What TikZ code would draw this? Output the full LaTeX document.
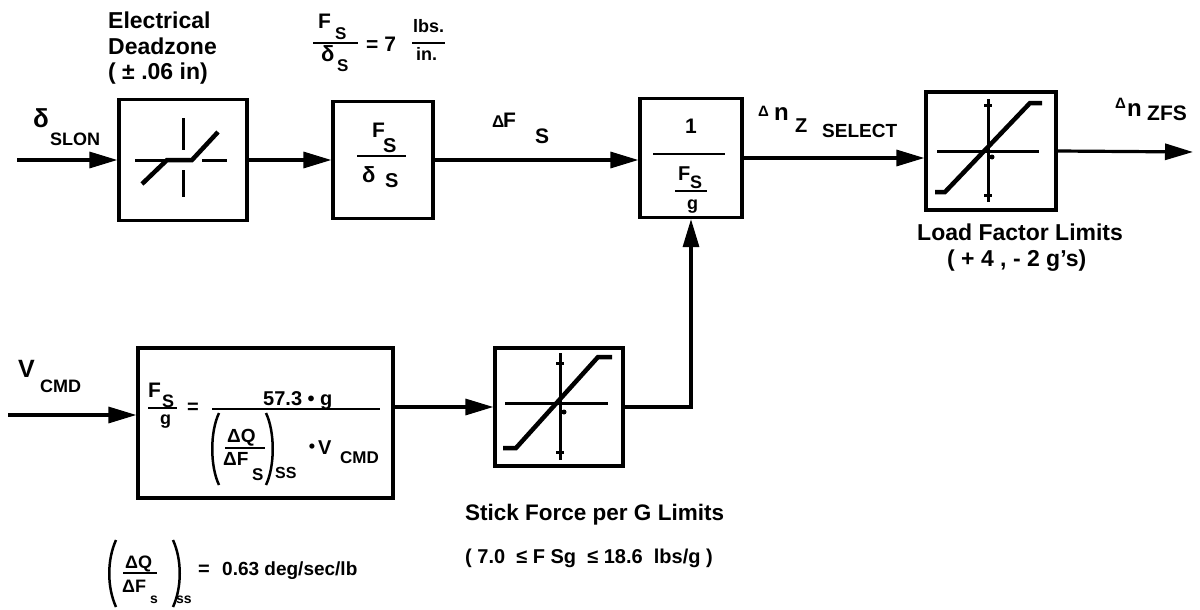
\documentclass[tikz,border=0pt]{standalone}
\usepackage{fontspec}
\setmainfont{Liberation Sans}
\usetikzlibrary{arrows.meta}
\newcommand\fsz[1]{\fontsize{#1}{#1}\selectfont\bfseries}
\begin{document}
\begin{tikzpicture}[x=1pt,y=-1pt,
  blk/.style={draw, line width=3.2pt, inner sep=0pt},
  conn/.style={line width=3.2pt, -{Triangle[length=28pt,width=16pt]}},
  glyph/.style={line width=4.5pt},
  axis/.style={line width=3pt},
  bar/.style={line width=2.6pt},
  thinbar/.style={line width=2pt},
  paren/.style={line width=2.5pt},
  tx/.style={inner sep=0pt, anchor=base west},
  ctx/.style={inner sep=0pt},
]
\useasboundingbox (0,0) rectangle (1200,610);

% blocks
\node[blk, minimum width=128pt, minimum height=121pt] (b1) at (183,160) {};
\node[blk, minimum width=100pt, minimum height=117pt] (b2) at (383,160) {};
\node[blk, minimum width=102pt, minimum height=119pt] (b3) at (691,158) {};
\node[blk, minimum width=130pt, minimum height=118pt] (b4) at (991,151) {};
\node[blk, minimum width=128pt, minimum height=118pt] (sf) at (559,407) {};
\node[blk, minimum width=255pt, minimum height=150pt] (vc) at (265.5,423) {};

% connectors
\coordinate (din) at (17,160);
\coordinate (dout) at (1193,152);
\coordinate (vin) at (8,415);
\draw[conn] (din) -- (b1.west);
\draw[conn] (b1.east) -- (b2.west);
\draw[conn] (b2.east) -- (b2.east -| b3.west);
\draw[conn] (b3.east) -- (b3.east -| b4.west);
\draw[conn] (b4.east) -- (dout);
\draw[conn] (vin) -- (vin -| vc.west);
\draw[conn] (vc.east |- sf.west) -- (sf.west);
\draw[conn] (sf.east) -| (b3.south);

% deadzone glyph
\draw[axis] (135,160) -- (167,160);
\draw[axis] (202,160) -- (227,160);
\draw[axis] (183,118) -- (183,150);
\draw[axis] (183,170) -- (183,197);
\draw[glyph] (142,184) -- (167,160) -- (192,160) -- (218,132);

% load factor limiter glyph
\draw[axis] (937,151) -- (1039,151);
\draw[axis] (988,99) -- (988,202);
\draw[axis] (984,105) -- (992,105);
\draw[axis] (984,195) -- (992,195);
\fill (992,157) circle (2.5);
\draw[glyph] (935,192) -- (945,192) -- (1030,103) -- (1042,103);

% stick force limiter glyph
\draw[axis] (505,403) -- (608,403);
\draw[axis] (560,353) -- (560,460);
\draw[axis] (556,363) -- (564,363);
\draw[axis] (556,452) -- (564,452);
\fill (564,412) circle (2.5);
\draw[glyph] (503,448) -- (516,448) -- (598,357) -- (612,357);

% top-left labels
\node[tx,font=\fsz{23}] (l1) at (108,29) {Electrical};
\node[tx,font=\fsz{23}] (l2) at (108,55) {Deadzone};
\node[tx,font=\fsz{23}] (l3) at (108,80) {( ± .06 in)};

% Fs/ds = 7 lbs/in
\node[tx,font=\fsz{21}] (f1) at (318,29) {F};
\node[tx,font=\fsz{17}] (f2) at (335,40) {S};
\draw[bar] (313,43) -- (358,43);
\node[tx,font=\fsz{22}] (f3) at (321,62) {δ};
\node[tx,font=\fsz{17}] (f4) at (337,72) {S};
\node[tx,font=\fsz{21}] (f5) at (366,52) {= 7};
\node[tx,font=\fsz{18}] (f6) at (413,33) {lbs.};
\draw[thinbar] (412,43) -- (445,43);
\node[tx,font=\fsz{18}] (f7) at (416,60) {in.};

% input delta SLON
\node[tx,font=\fsz{26}] (s1) at (33,128) {δ};
\node[tx,font=\fsz{18}] (s2) at (50,145) {SLON};

% Delta F_S
\node[tx,font=\fsz{17}] (d1) at (492,128) {Δ};
\node[tx,font=\fsz{21}] (d2) at (503,128) {F};
\node[tx,font=\fsz{21}] (d3) at (535,143) {S};

% block 2 content
\node[tx,font=\fsz{21}] (g1) at (372,137) {F};
\node[tx,font=\fsz{20}] (g2) at (383,152) {S};
\draw[bar] (357,156) -- (406,156);
\node[tx,font=\fsz{22}] (g3) at (362,182) {δ};
\node[tx,font=\fsz{20}] (g4) at (385,187) {S};

% block 3 content
\node[tx,font=\fsz{21}] (h1) at (685,133) {1};
\draw[bar] (653,154) -- (725,154);
\node[tx,font=\fsz{20}] (h2) at (678,180) {F};
\node[tx,font=\fsz{18}] (h3) at (690,188) {S};
\draw[thinbar] (675,191) -- (707,191);
\node[tx,font=\fsz{18}] (h4) at (687,209) {g};

% Delta n_Z SELECT
\node[tx,font=\fsz{15}] (n1) at (758,117) {Δ};
\node[tx,font=\fsz{24}] (n2) at (774,120) {n};
\node[tx,font=\fsz{20}] (n3) at (795,132) {Z};
\node[tx,font=\fsz{19}] (n4) at (822,137) {SELECT};

% Delta n_ZFS
\node[tx,font=\fsz{15}] (o1) at (1115,108) {Δ};
\node[tx,font=\fsz{24}] (o2) at (1127,117) {n};
\node[tx,font=\fsz{21}] (o3) at (1147,120) {ZFS};

% load factor label
\node[tx,font=\fsz{23}] (lf1) at (917,240) {Load Factor Limits};
\node[tx,font=\fsz{23}] (lf2) at (947,266) {( + 4 , - 2 g's)};

% stick force label
\node[tx,font=\fsz{22.5}] (st1) at (465,520) {Stick Force per G Limits};
\node[tx,font=\fsz{20}] (st2) at (465,563) {( 7.0 \ ≤ F Sg \ ≤ 18.6 \ lbs/g )};

% V_CMD input
\node[tx,font=\fsz{25}] (v1) at (18,377) {V};
\node[tx,font=\fsz{18}] (v2) at (40,392) {CMD};

% V_CMD block content
\node[tx,font=\fsz{21}] (c1) at (148,397) {F};
\node[tx,font=\fsz{18}] (c2) at (162,407) {S};
\draw[bar] (148,408) -- (177,408);
\node[tx,font=\fsz{18}] (c3) at (160,424) {g};
\node[ctx,font=\fsz{20}] (c4) at (193,408) {=};
\node[tx,font=\fsz{20}] (c5) at (263,405) {57.3 • g};
\draw[bar] (212,409) -- (380,409);
\draw[paren] (219,413) .. controls (210,432) and (210,466) .. (219,485);
\draw[paren] (266,413) .. controls (275,432) and (275,466) .. (266,485);
\node[tx,font=\fsz{19}] (c6) at (227,442) {ΔQ};
\draw[thinbar] (225,448) -- (265,448);
\node[tx,font=\fsz{19}] (c7) at (223,465) {ΔF};
\node[tx,font=\fsz{17}] (c8) at (252,480) {S};
\node[tx,font=\fsz{16}] (c9) at (275,478) {SS};
\node[ctx,font=\fsz{18}] (c10) at (312,448) {•};
\node[tx,font=\fsz{20}] (c11) at (318,454) {V};
\node[tx,font=\fsz{17}] (c12) at (340,463) {CMD};

% bottom formula
\draw[paren] (116,540) .. controls (107,560) and (107,587) .. (116,607);
\draw[paren] (173,540) .. controls (182,560) and (182,587) .. (173,607);
\node[tx,font=\fsz{18}] (e1) at (125,568) {ΔQ};
\draw[thinbar] (123,573) -- (157,573);
\node[tx,font=\fsz{18}] (e2) at (122,592) {ΔF};
\node[tx,font=\fsz{14}] (e3) at (150,603) {s};
\node[tx,font=\fsz{14}] (e4) at (176,603) {ss};
\node[ctx,font=\fsz{20}] (e5) at (204,570) {=};
\node[tx,font=\fsz{19}] (e6) at (222,575) {0.63 deg/sec/lb};
\end{tikzpicture}
\end{document}
